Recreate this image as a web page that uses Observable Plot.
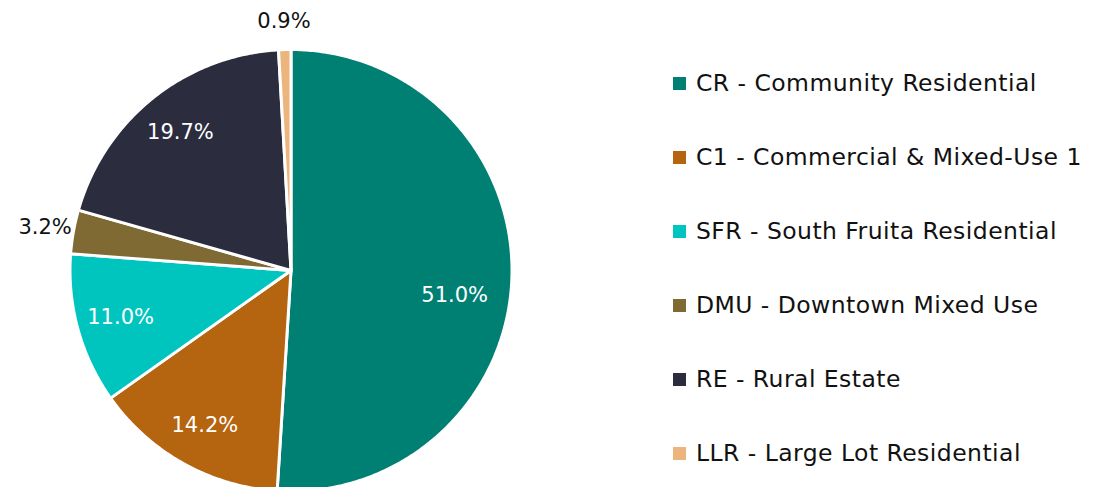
<!DOCTYPE html>
<html>
<head>
<meta charset="utf-8">
<script src="https://cdn.jsdelivr.net/npm/d3@7"></script>
<script src="https://cdn.jsdelivr.net/npm/@observablehq/plot@0.6"></script>
<style>
  html, body { margin: 0; padding: 0; background: #fff; }
  #wrap { position: relative; width: 1094px; height: 487px; overflow: hidden; font-family: "DejaVu Sans", sans-serif; }
  #legend { position: absolute; left: 673px; top: 0; }
  .item { position: absolute; left: 0; white-space: nowrap; display: flex; align-items: center; font-size: 23.5px; letter-spacing: 0.45px; color: #111; transform: translateY(-50%); }
  .sw { width: 13px; height: 13px; margin-right: 10px; flex: none; }
</style>
</head>
<body>
<div id="wrap"><div id="legend"></div></div>
<script>
const categories = ["CR", "C1", "SFR", "DMU", "RE", "LLR"];
const legendLabels = [
  "CR - Community Residential",
  "C1 - Commercial & Mixed-Use 1",
  "SFR - South Fruita Residential",
  "DMU - Downtown Mixed Use",
  "RE - Rural Estate",
  "LLR - Large Lot Residential"
];
const shares = [51.0, 14.2, 11.0, 3.2, 19.7, 0.9];
const colors = ["#007f73", "#b5640f", "#00c5bf", "#7f6a34", "#2b2d3f", "#edb57e"];

const rows = categories.map((c, i) => ({key: c, value: shares[i], label: shares[i].toFixed(1) + "%"}));
const arcs = d3.pie().sort(null).value(d => d.value).startAngle(0).endAngle(2 * Math.PI)(rows);

// slice outlines (center -> arc -> center) in unit-radius space
const outline = [];
for (const a of arcs) {
  const n = Math.max(4, Math.ceil((a.endAngle - a.startAngle) / 0.01));
  outline.push({key: a.data.key, x: 0, y: 0});
  for (let k = 0; k <= n; k++) {
    const t = a.startAngle + (a.endAngle - a.startAngle) * k / n;
    outline.push({key: a.data.key, x: Math.sin(t), y: Math.cos(t)});
  }
  outline.push({key: a.data.key, x: 0, y: 0});
}

const maxShare = d3.max(shares);
const labelPts = arcs.map(a => {
  const m = (a.startAngle + a.endAngle) / 2;
  const outside = a.data.value < 5;
  const r = outside ? 1.13 : 0.8;
  return {x: Math.sin(m) * r, y: Math.cos(m) * r, text: a.data.label, outside, big: a.data.value === maxShare};
});

const cx = 290.5, cy = 270, R = 221;
const font = "'DejaVu Sans', sans-serif";
const chart = Plot.plot({
  width: 1094,
  height: 487,
  margin: 0,
  style: {background: "transparent", fontFamily: font},
  x: {domain: [-1, 1], range: [cx - R, cx + R], axis: null},
  y: {domain: [-1, 1], range: [cy + R, cy - R], axis: null},
  color: {domain: categories, range: colors},
  marks: [
    Plot.line(outline, {x: "x", y: "y", z: "key", fill: "key", stroke: "white", strokeWidth: 3, strokeLinejoin: "round"}),
    Plot.text(labelPts.filter(d => !d.outside && !d.big), {x: "x", y: "y", text: "text", fill: "white", fontSize: 21}),
    Plot.text(labelPts.filter(d => d.big), {x: "x", y: "y", text: "text", fill: "white", fontSize: 21, dx: -13, dy: 19}),
    Plot.text(labelPts.filter(d => d.outside), {x: "x", y: "y", text: "text", fill: "#111", fontSize: 21})
  ]
});
chart.style.position = "absolute";
chart.style.left = "0";
chart.style.top = "0";
document.getElementById("wrap").prepend(chart);

const legend = document.getElementById("legend");
legendLabels.forEach((t, i) => {
  const el = document.createElement("div");
  el.className = "item";
  el.style.top = (83 + 74 * i) + "px";
  const sw = document.createElement("span");
  sw.className = "sw";
  sw.style.background = colors[i];
  const tx = document.createElement("span");
  tx.textContent = t;
  el.append(sw, tx);
  legend.append(el);
});
</script>
</body>
</html>
